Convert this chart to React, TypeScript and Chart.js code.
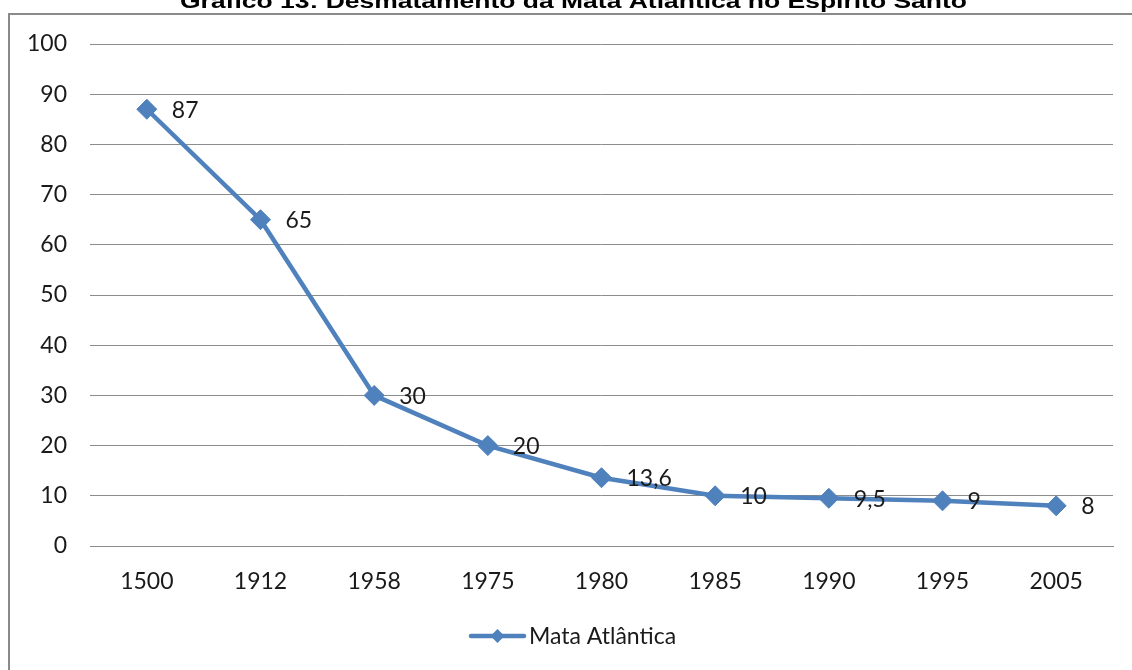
import React, { useEffect, useRef } from "react";
import { Chart, registerables } from "chart.js";

Chart.register(...registerables);

const chartTitle = "Gráfico 13: Desmatamento da Mata Atlântica no Espírito Santo";
const seriesName = "Mata Atlântica";
const years = ["1500", "1912", "1958", "1975", "1980", "1985", "1990", "1995", "2005"];
const forestCover = [87, 65, 30, 20, 13.6, 10, 9.5, 9, 8];
const yTickMin = 0;
const yTickMax = 100;
const yTickStep = 10;

const BLUE = "#4F81BD";
const TEXT = "#1a1a1a";
const GRID = "#8c8c8c";
const FONT_FAMILY = "Lato, 'Open Sans', sans-serif";
const FONT_SIZE = 23;

const formatPt = (v: number) => String(v).replace(".", ",");

const decorPlugin = {
  id: "decor",
  beforeDraw(chart: any) {
    const ctx = chart.ctx as CanvasRenderingContext2D;
    ctx.save();
    ctx.fillStyle = "#ffffff";
    ctx.fillRect(0, 0, chart.width, chart.height);
    // outer frame
    ctx.strokeStyle = "#8a8a8a";
    ctx.lineWidth = 2;
    ctx.beginPath();
    ctx.moveTo(9, chart.height + 2);
    ctx.lineTo(9, 14);
    ctx.lineTo(chart.width + 2, 14);
    ctx.stroke();
    // title (clipped at top as in the reference)
    ctx.font = 'bold 21px "Liberation Sans", Arial, sans-serif';
    const w = ctx.measureText(chartTitle).width;
    ctx.translate(180, 8);
    ctx.scale(787 / w, 1);
    ctx.fillStyle = "#000000";
    ctx.textAlign = "left";
    ctx.textBaseline = "alphabetic";
    ctx.fillText(chartTitle, 0, 0);
    ctx.restore();
  },
  afterDatasetsDraw(chart: any) {
    const ctx = chart.ctx as CanvasRenderingContext2D;
    const meta = chart.getDatasetMeta(0);
    const data = chart.data.datasets[0].data as number[];
    ctx.save();
    ctx.font = `${FONT_SIZE}px ${FONT_FAMILY}`;
    ctx.fillStyle = TEXT;
    ctx.textAlign = "left";
    ctx.textBaseline = "middle";
    meta.data.forEach((el: any, i: number) => {
      ctx.fillText(formatPt(data[i]), el.x + 25, el.y + 1);
    });
    // legend
    const ly = 636;
    ctx.strokeStyle = BLUE;
    ctx.lineWidth = 4.5;
    ctx.lineCap = "round";
    ctx.beginPath();
    ctx.moveTo(471, ly);
    ctx.lineTo(524, ly);
    ctx.stroke();
    ctx.fillStyle = BLUE;
    ctx.beginPath();
    const r = 7;
    ctx.moveTo(497.5 - r, ly);
    ctx.lineTo(497.5, ly - r);
    ctx.lineTo(497.5 + r, ly);
    ctx.lineTo(497.5, ly + r);
    ctx.closePath();
    ctx.fill();
    ctx.fillStyle = TEXT;
    ctx.fillText(chart.data.datasets[0].label, 529, ly + 1);
    ctx.restore();
  },
};

export default function App() {
  const ref = useRef<HTMLCanvasElement | null>(null);
  useEffect(() => {
    if (!ref.current) return;
    const chart = new Chart(ref.current, {
      type: "line",
      data: {
        labels: years,
        datasets: [
          {
            label: seriesName,
            data: forestCover,
            borderColor: BLUE,
            backgroundColor: BLUE,
            borderWidth: 4.5,
            pointStyle: "rectRot",
            pointRadius: 10,
            pointBorderWidth: 1,
            pointBackgroundColor: BLUE,
            pointBorderColor: BLUE,
            tension: 0,
          },
        ],
      },
      options: {
        responsive: false,
        animation: false,
        devicePixelRatio: 1,
        layout: { padding: { left: 0, right: 19, top: 44, bottom: 0 } },
        plugins: {
          legend: { display: false },
          title: { display: false },
          tooltip: { enabled: false },
        },
        scales: {
          x: {
            offset: true,
            grid: { display: false, drawTicks: false },
            border: { display: true, color: GRID, width: 1 },
            ticks: {
              color: TEXT,
              font: { family: FONT_FAMILY, size: FONT_SIZE },
              padding: 22,
              maxRotation: 0,
              autoSkip: false,
            },
            afterFit: (s: any) => {
              s.height = 124;
            },
          },
          y: {
            min: yTickMin,
            max: yTickMax,
            grid: { color: GRID, lineWidth: 1, drawTicks: false },
            border: { display: false },
            ticks: {
              stepSize: yTickStep,
              color: TEXT,
              font: { family: FONT_FAMILY, size: FONT_SIZE },
              padding: 23,
            },
            afterFit: (s: any) => {
              s.width = 90;
            },
          },
        },
      },
      plugins: [decorPlugin],
    });
    return () => chart.destroy();
  }, []);
  return (
    <div style={{ position: "absolute", left: 0, top: 0, width: 1132, height: 670 }}>
      <canvas ref={ref} width={1132} height={670} style={{ display: "block" }} />
    </div>
  );
}
